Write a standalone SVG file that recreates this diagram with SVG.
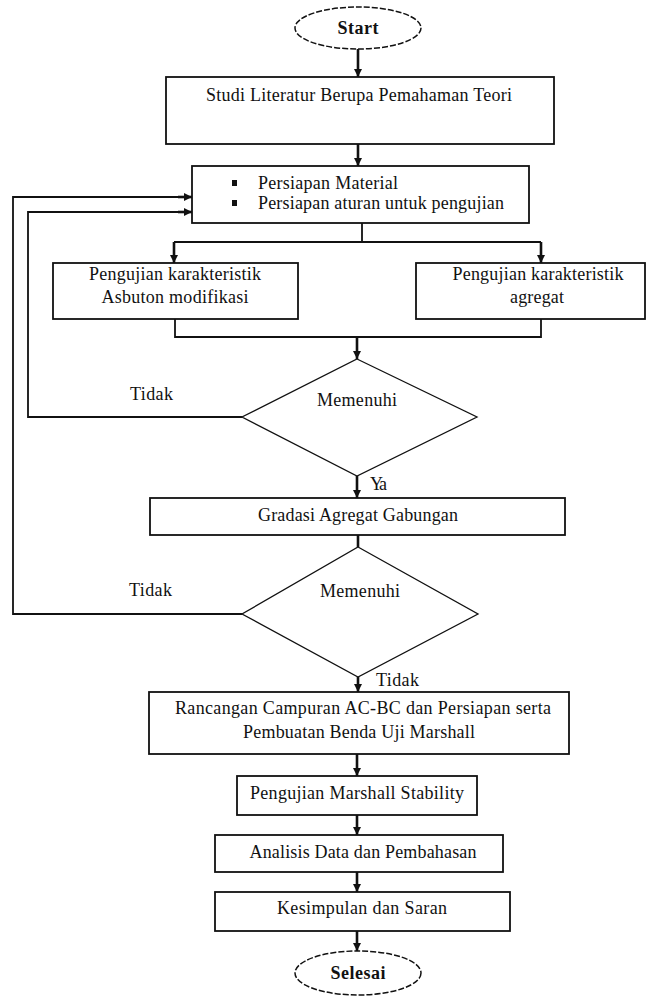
<svg xmlns="http://www.w3.org/2000/svg" width="647" height="997" viewBox="0 0 647 997">
<style>
.box{fill:#fff;stroke:#111;stroke-width:1.8}
.term{fill:#fff;stroke:#111;stroke-width:1.5;stroke-dasharray:6 2}
.dia{fill:#fff;stroke:#111;stroke-width:1.3}
.t{font-family:"Liberation Serif","Times New Roman",serif;font-size:18px;fill:#111}
.b{font-weight:bold}
.c{text-anchor:middle}
.ln{fill:none;stroke:#111;stroke-width:1.8}
.ar{fill:none;stroke:#111;stroke-width:2.6}
</style>
<defs>
<marker id="ah" viewBox="0 0 10 10" refX="10" refY="5" markerWidth="8" markerHeight="9" markerUnits="userSpaceOnUse" orient="auto">
<path d="M0,0 L10,5 L0,10 z" fill="#111"/>
</marker>
</defs>
<rect width="647" height="997" fill="#fff"/>
<g id="connectors">
<path class="ar" d="M358,49 V77" marker-end="url(#ah)"/>
<path class="ar" d="M358,144 V166" marker-end="url(#ah)"/>
<path class="ln" d="M362,223 V242 M174,242 H541"/>
<path class="ar" d="M174,242 V263" marker-end="url(#ah)"/>
<path class="ar" d="M541,242 V263" marker-end="url(#ah)"/>
<path class="ln" d="M175,319 V337 H541 V319"/>
<path class="ar" d="M357,337 V359" marker-end="url(#ah)"/>
<path class="ln" d="M242,417 H28 V212 H180"/>
<path class="ar" d="M178,212 H192" marker-end="url(#ah)"/>
<path class="ar" d="M357,476 V498" marker-end="url(#ah)"/>
<path class="ar" d="M358,535 V547"/>
<path class="ln" d="M242,614 H13 V197 H180"/>
<path class="ar" d="M178,197 H192" marker-end="url(#ah)"/>
<path class="ar" d="M358,677 V692" marker-end="url(#ah)"/>
<path class="ar" d="M357,754 V776" marker-end="url(#ah)"/>
<path class="ar" d="M357,815 V835" marker-end="url(#ah)"/>
<path class="ar" d="M357,872 V892" marker-end="url(#ah)"/>
<path class="ar" d="M357,931 V951" marker-end="url(#ah)"/>
</g>
<g id="start">
<ellipse class="term" cx="358" cy="28" rx="63" ry="21"/>
<text class="t b c" x="358" y="34" textLength="41">Start</text>
</g>
<g id="studi">
<rect class="box" x="166" y="77" width="388" height="67"/>
<text class="t c" x="359" y="101" textLength="306">Studi Literatur Berupa Pemahaman Teori</text>
</g>
<g id="persiapan">
<rect class="box" x="192" y="166" width="337" height="57"/>
<rect x="232" y="180" width="5" height="6" fill="#111"/>
<rect x="232" y="200" width="5" height="6" fill="#111"/>
<text class="t" x="258" y="189" textLength="140">Persiapan Material</text>
<text class="t" x="258" y="209" textLength="246">Persiapan aturan untuk pengujian</text>
</g>
<g id="uji-asbuton">
<rect class="box" x="53" y="263" width="245" height="56"/>
<text class="t c" x="175" y="280" textLength="172">Pengujian karakteristik</text>
<text class="t c" x="175" y="303" textLength="147">Asbuton modifikasi</text>
</g>
<g id="uji-agregat">
<rect class="box" x="416" y="263" width="229" height="56"/>
<text class="t c" x="538" y="280" textLength="171">Pengujian karakteristik</text>
<text class="t c" x="537" y="303" textLength="54">agregat</text>
</g>
<g id="memenuhi1">
<polygon class="dia" points="357,359 477,417 357,476 242,417"/>
<text class="t c" x="357" y="406" textLength="80">Memenuhi</text>
</g>
<text class="t" x="130" y="400" textLength="43">Tidak</text>
<text class="t" x="370" y="490" textLength="17">Ya</text>
<g id="gradasi">
<rect class="box" x="150" y="498" width="415" height="37"/>
<text class="t c" x="358" y="521" textLength="200">Gradasi Agregat Gabungan</text>
</g>
<g id="memenuhi2">
<polygon class="dia" points="358,547 478,614 358,677 242,614"/>
<text class="t c" x="360" y="597" textLength="80">Memenuhi</text>
</g>
<text class="t" x="129" y="596" textLength="43">Tidak</text>
<text class="t" x="376" y="686" textLength="43">Tidak</text>
<g id="rancangan">
<rect class="box" x="149" y="692" width="420" height="62"/>
<text class="t c" x="363" y="714" textLength="376">Rancangan Campuran AC-BC dan  Persiapan serta</text>
<text class="t c" x="359" y="738" textLength="232">Pembuatan Benda Uji Marshall</text>
</g>
<g id="marshall">
<rect class="box" x="237" y="776" width="240" height="39"/>
<text class="t c" x="357" y="799" textLength="214">Pengujian Marshall Stability</text>
</g>
<g id="analisis">
<rect class="box" x="215" y="835" width="288" height="37"/>
<text class="t c" x="363" y="858" textLength="227">Analisis Data dan Pembahasan</text>
</g>
<g id="kesimpulan">
<rect class="box" x="215" y="892" width="295" height="39"/>
<text class="t c" x="362" y="914" textLength="170">Kesimpulan dan Saran</text>
</g>
<g id="selesai">
<ellipse class="term" cx="358" cy="973" rx="63" ry="22"/>
<text class="t b c" x="358" y="979" textLength="55">Selesai</text>
</g>
</svg>
